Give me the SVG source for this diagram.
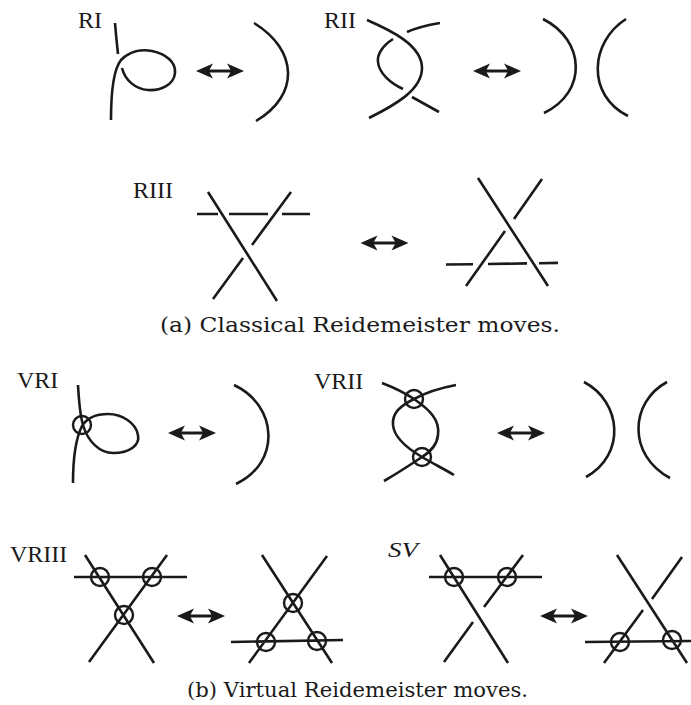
<svg xmlns="http://www.w3.org/2000/svg" xmlns:xlink="http://www.w3.org/1999/xlink" width="691" height="705" viewBox="0 0 691 705">
<style>
.s{fill:none;stroke:#1a1a1a;stroke-width:2.6;stroke-linecap:butt}
.c{fill:none;stroke:#1a1a1a;stroke-width:2.4}
.lbl{font-family:"Liberation Serif","Times New Roman",serif;font-size:24px;fill:#1a1a1a}
.cap{font-family:"DejaVu Serif","Liberation Serif",serif;font-size:21px;fill:#1a1a1a}
</style>
<defs>
<g id="dbl">
<line x1="-12" y1="0" x2="12" y2="0" stroke="#1a1a1a" stroke-width="3"/>
<path d="M-24,0 L-7,-7.5 Q-10,-2.5 -11,0 Q-10,2.5 -7,7.5 Z M24,0 L7,-7.5 Q10,-2.5 11,0 Q10,2.5 7,7.5 Z" fill="#1a1a1a"/>
</g>
</defs>
<rect width="691" height="705" fill="#fff"/>

<g id="RI">
<text class="lbl" x="102" y="28" text-anchor="end">RI</text>
<path class="s" d="M115,23 C116,35 117,45 118,54"/>
<path class="s" d="M111,120 C111,92 113,70 121,60 C130,51 142,49 152,51 C166,54 176,62 175,73 C174,85 160,91 148,90 C135,89 125,80 122,68"/>
</g>
<g id="RI-right">
<path class="s" d="M254,23 C298,50 300,95 256,121"/>
</g>

<g id="RII">
<text class="lbl" x="356" y="28" text-anchor="end">RII</text>
<path class="s" d="M367,20 C390,30 422,45 422,68 C422,90 395,105 369,118"/>
<path class="s" d="M440,23 C428,25 416,28 407,32"/>
<path class="s" d="M393,39 C382,46 377,55 378,62 C379,73 390,83 403,89"/>
<path class="s" d="M412,97 L439,112"/>
</g>
<g id="RII-right">
<path class="s" d="M543,19 C585,40 588,92 544,113"/>
<path class="s" d="M626,19 C590,42 586,95 628,116"/>
</g>

<g id="RIII">
<text class="lbl" x="133" y="198">RIII</text>
<path class="s" d="M208,192 L277,301 M197,214 L218,214 M229,214 L268,214 M282,214 L310,214 M291,192 L252,245 M243,258 L213,299"/>
</g>
<g id="RIII-right">
<path class="s" d="M478,178 L548,286 M542,179 L514,219 M505,231 L466,286 M446,264.5 L473,264.2 M488,264 L527,263.4 M539,263.2 L558,262.9"/>
</g>

<text class="cap" x="160" y="332" textLength="400" lengthAdjust="spacingAndGlyphs">(a) Classical Reidemeister moves.</text>

<g id="VRI">
<text class="lbl" x="17" y="388">VRI</text>
<path class="s" d="M78,385 C79,403 80,415 83,425 C88,442 100,453 113,453 C130,453 140,445 138,435 C136,423 122,414 108,414 C96,414 87,418 82,426 C76,438 73,460 73,483"/>
<circle class="c" cx="82" cy="425" r="9"/>
</g>
<g id="VRI-right">
<path class="s" d="M234,385 C277,405 282,462 236,484"/>
</g>

<g id="VRII">
<text class="lbl" x="314" y="389">VRII</text>
<path class="s" d="M382,383 C395,388 405,393 414,399 C430,410 440,420 438,435 C437,445 430,452 422,457 C410,465 398,473 384,481"/>
<path class="s" d="M456,385 C440,388 425,393 414,399 C400,406 392,413 393,425 C394,437 405,447 422,457 C432,463 444,469 454,475"/>
<circle class="c" cx="414" cy="399" r="9"/>
<circle class="c" cx="422" cy="457" r="9"/>
</g>
<g id="VRII-right">
<path class="s" d="M584,382 C622,402 626,455 586,477"/>
<path class="s" d="M667,382 C630,402 627,455 670,478"/>
</g>

<g id="VRIII">
<text class="lbl" x="10" y="562">VRIII</text>
<path class="s" d="M74,577 L187,577 M85,555 L154,663 M167,555 L89,662"/>
<circle class="c" cx="100" cy="577" r="9"/>
<circle class="c" cx="152" cy="577" r="9"/>
<circle class="c" cx="124" cy="615" r="9"/>
</g>
<g id="VRIII-right">
<path class="s" d="M262,555 L332,663 M327,556 L249,663 M231,642 L343,640"/>
<circle class="c" cx="293" cy="603" r="9"/>
<circle class="c" cx="266" cy="642" r="9"/>
<circle class="c" cx="317" cy="641" r="9"/>
</g>

<g id="SV">
<text class="lbl" x="388" y="557" textLength="30" lengthAdjust="spacingAndGlyphs" style="font-size:22px;font-style:italic">SV</text>
<path class="s" d="M429,577 L542,577 M440,555 L508,663 M523,555 L484,607 M473,622 L444,662"/>
<circle class="c" cx="454" cy="577" r="9"/>
<circle class="c" cx="507" cy="577" r="9"/>
</g>
<g id="SV-right">
<path class="s" d="M617,555 L687,663 M682,557 L652,599 M643,610 L604,663 M585,642 L692,641"/>
<circle class="c" cx="620" cy="642" r="9"/>
<circle class="c" cx="672" cy="640" r="9"/>
</g>

<text class="cap" x="187" y="697" textLength="341" lengthAdjust="spacingAndGlyphs">(b) Virtual Reidemeister moves.</text>

<g id="connectors">
<use xlink:href="#dbl" x="220" y="71"/>
<use xlink:href="#dbl" x="497" y="71"/>
<use xlink:href="#dbl" x="384.5" y="243"/>
<use xlink:href="#dbl" x="192" y="433"/>
<use xlink:href="#dbl" x="521" y="433"/>
<use xlink:href="#dbl" x="201" y="616"/>
<use xlink:href="#dbl" x="564" y="616"/>
</g>
</svg>
